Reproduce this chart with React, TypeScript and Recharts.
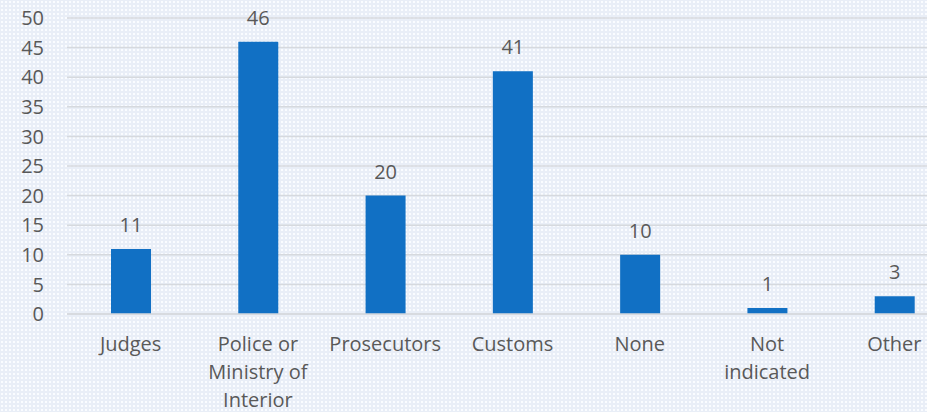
import React from 'react';
import { BarChart, Bar, XAxis, YAxis, CartesianGrid, LabelList } from 'recharts';

const categories = ['Judges', 'Police or\nMinistry of\nInterior', 'Prosecutors', 'Customs', 'None', 'Not\nindicated', 'Other'];
const counts = [11, 46, 20, 41, 10, 1, 3];
const yTicks = [0, 5, 10, 15, 20, 25, 30, 35, 40, 45, 50];

const data = categories.map((c, i) => ({ category: c, value: counts[i] }));

const FONT = '"Open Sans", sans-serif';
const TEXT = '#595959';

const CategoryTick = (props: any) => {
  const { x, y, payload } = props;
  const lines = String(payload.value).split('\n');
  return (
    <text x={x} y={y + 37} textAnchor="middle" fill={TEXT} fontFamily={FONT} fontSize={20}>
      {lines.map((l, i) => (
        <tspan key={i} x={x} dy={i === 0 ? 0 : 28}>{l}</tspan>
      ))}
    </text>
  );
};

export default function App() {
  return (
    <div
      style={{
        position: 'fixed',
        left: 0,
        top: 0,
        width: 927,
        height: 412,
        overflow: 'hidden',
        backgroundColor: '#e9eef7',
        backgroundImage: 'radial-gradient(circle, #fafcff 0.75px, transparent 1.1px)',
        backgroundSize: '4px 4px',
      }}
    >
      <BarChart width={958} height={412} data={data} margin={{ top: 18, right: 0, bottom: 0, left: 0 }} barCategoryGap={0}>
        <CartesianGrid vertical={false} stroke="#d6d9de" strokeWidth={1.5} />
        <XAxis
          dataKey="category"
          axisLine={{ stroke: '#d6d9de', strokeWidth: 1.5 }}
          tickLine={false}
          tickSize={0}
          tickMargin={0}
          height={98}
          interval={0}
          tick={<CategoryTick />}
        />
        <YAxis
          width={67}
          domain={[0, 50]}
          ticks={yTicks}
          axisLine={false}
          tickLine={false}
          tickSize={0}
          tickMargin={23}
          tick={{ fill: TEXT, fontFamily: FONT, fontSize: 20 }}
        />
        <Bar dataKey="value" fill="#1170c4" barSize={40} isAnimationActive={false}>
          <LabelList dataKey="value" position="top" offset={17} fill={TEXT} fontFamily={FONT} fontSize={20} />
        </Bar>
      </BarChart>
    </div>
  );
}
